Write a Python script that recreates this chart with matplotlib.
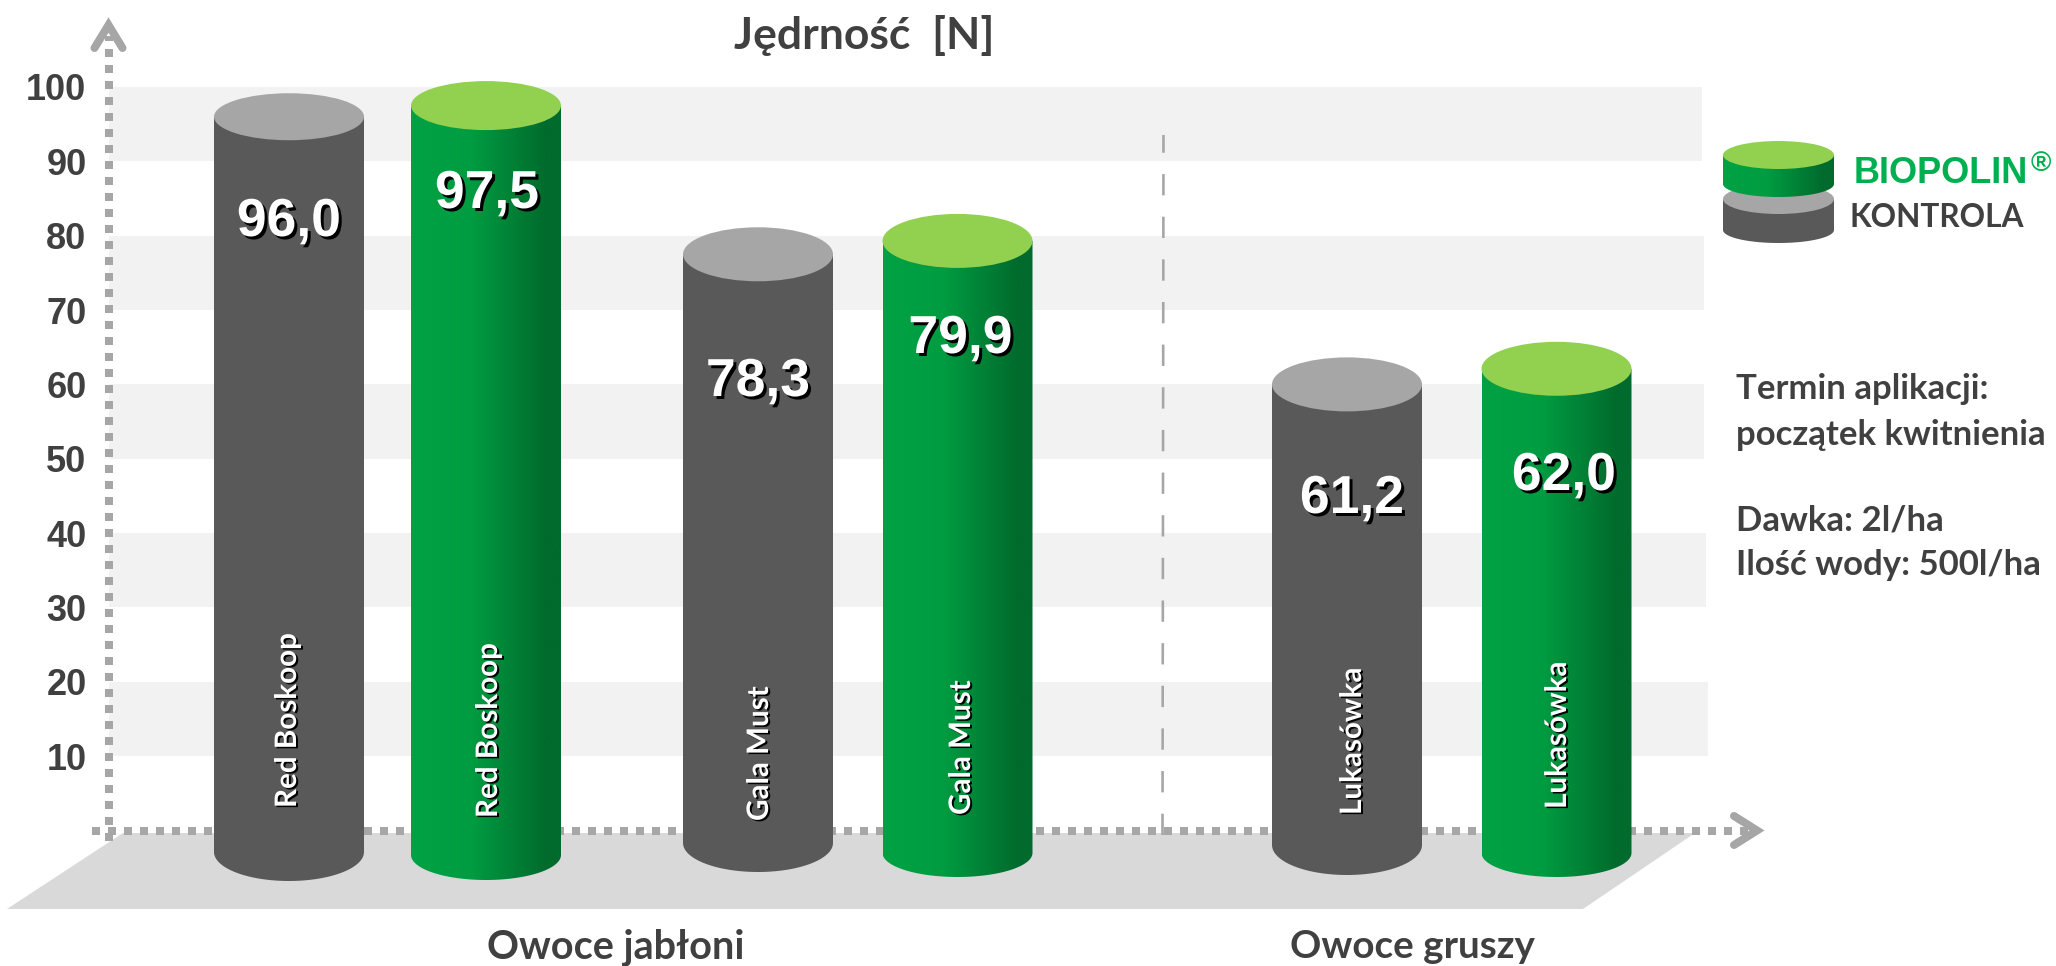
import numpy as np
import matplotlib
matplotlib.use('Agg')
import matplotlib.pyplot as plt
from matplotlib.patches import Ellipse, PathPatch, Polygon
from matplotlib.path import Path
from matplotlib.colors import LinearSegmentedColormap
import matplotlib.patheffects as pe

### --- data --- ###
varieties = ['Red Boskoop', 'Gala Must', 'Lukasówka']
groups = ['Owoce jabłoni', 'Owoce gruszy']
kontrola_labels = ['96,0', '78,3', '61,2']
biopolin_labels = ['97,5', '79,9', '62,0']
# bar heights as drawn against the axis scale
kontrola = [96.0, 77.5, 60.0]
biopolin = [97.5, 79.3, 62.1]
y_ticks = [10, 20, 30, 40, 50, 60, 70, 80, 90, 100]
bands = [(10, 20), (30, 40), (50, 60), (70, 80), (90, 100)]
info_lines = ['Termin aplikacji:', 'początek kwitnienia', 'Dawka: 2l/ha', 'Ilość wody: 500l/ha']

### --- layout (pixels of the 2056x966 picture) --- ###
W, H = 2056, 966
DPI = 100
Y0 = 830.5
PX = 7.435
AX_LEFT = 108.5
BAR_W = 150

kontrola_x = [289, 758, 1347]
biopolin_x = [486, 957.5, 1556.5]
kontrola_side = [852, 843, 845]    # where the straight sides stop
biopolin_side = [855, 853, 853]
kontrola_bot = [881, 872, 875]
biopolin_bot = [880, 877, 877]
kontrola_cap = [23.5, 27, 27]      # half height of the top ellipse
biopolin_cap = [24.5, 27, 27]
kontrola_num_x = [289, 758, 1352]
biopolin_num_x = [487, 960.5, 1564]
kontrola_num_y = [216.5, 376.5, 493.5]
biopolin_num_y = [188.5, 333.5, 470.5]
kontrola_name = (287, 759, 1352)
biopolin_name = (488, 961, 1557)
kontrola_name_bot = [808, 821, 815]
biopolin_name_bot = [818, 815, 809]
band_right = [1708, 1706, 1704, 1704, 1702]

GREY_BODY = '#595959'
GREY_TOP = '#A6A6A6'
GREEN_TOP = '#92D050'
DARK = '#404040'
AXIS = '#A6A6A6'
green_cmap = LinearSegmentedColormap.from_list(
    'g', [(0, '#00A244'), (0.4, '#009C41'), (0.9, '#006B2D'), (1, '#006B2D')])


def v(y):
    # picture pixel row -> axis value
    return (Y0 - np.asarray(y, dtype=float)) / PX


def pt(px):
    return px * 72.0 / DPI


fig = plt.figure(figsize=(W / DPI, H / DPI), dpi=DPI)
ax = fig.add_axes([AX_LEFT / W, 0, 1 - AX_LEFT / W, 1])
ax.patch.set_alpha(0)
ax.set_xlim(AX_LEFT, W)
ax.set_ylim(v(H), v(0))
ax.autoscale(False)
for s in ax.spines.values():
    s.set_visible(False)
ax.set_xticks([])
ax.set_yticks(y_ticks)
ax.tick_params(axis='y', length=0, pad=pt(22))
for t in ax.get_yticklabels():
    t.set_fontfamily('Liberation Sans')
    t.set_fontweight('bold')
    t.set_fontsize(26)
    t.set_color(DARK)

# background bands
for (lo, hi), r in zip(bands, band_right):
    ax.barh((lo + hi) / 2, r - AX_LEFT, height=hi - lo, left=AX_LEFT, color='#F2F2F2', lw=0, zorder=1)

# floor
ax.add_patch(Polygon([(123, v(833)), (1695, v(833)), (1583, v(909)), (7, v(909))],
                     closed=True, fc='#D9D9D9', ec='none', zorder=2, clip_on=False))

# divider
ax.plot([1162.5, 1163.5], [v(835), v(135)], color=AXIS, lw=pt(2.6), ls=(0, (8.2, 8.2)),
        dash_capstyle='butt', zorder=2.5)

# dotted axes with open arrow heads
ax.plot([AX_LEFT, AX_LEFT], [v(841), v(36)], color=AXIS, lw=pt(8), ls=(0, (1, 1)),
        dash_capstyle='butt', zorder=3, clip_on=False)
ax.plot([91.5, 1750], [v(830.5), v(830.5)], color=AXIS, lw=pt(8), ls=(0, (1, 1)),
        dash_capstyle='butt', zorder=3, clip_on=False)
ax.plot([94.5, AX_LEFT, 122.5], [v(48), v(25), v(48)], color=AXIS, lw=pt(8),
        solid_capstyle='round', solid_joinstyle='miter', zorder=3, clip_on=False)
ax.plot([1734, 1757, 1734], [v(816), v(830.5), v(845)], color=AXIS, lw=pt(8),
        solid_capstyle='round', solid_joinstyle='miter', zorder=3, clip_on=False)


def cylinder(x, top_y, side_y, bot_y, cap, width, green, z=4):
    # body: straight sides plus half ellipse at the foot
    t = np.linspace(np.pi, 2 * np.pi, 60)
    foot_x = x + width / 2 * np.cos(t)
    foot_val = v(side_y) + (bot_y - side_y) / PX * np.sin(t)
    xs = np.r_[x - width / 2, foot_x, x + width / 2, x - width / 2]
    ys = np.r_[top_y, foot_val, top_y, top_y]
    path = Path(np.c_[xs, ys])
    if green:
        im = ax.imshow(np.linspace(0, 1, 256)[None, :], cmap=green_cmap, aspect='auto',
                       extent=(x - width / 2, x + width / 2, foot_val.min(), top_y), zorder=z)
        im.set_clip_path(path, ax.transData)
    else:
        ax.add_patch(PathPatch(path, fc=GREY_BODY, ec='none', zorder=z))
    ax.add_patch(Ellipse((x, top_y), width, 2 * cap / PX, fc=GREEN_TOP if green else GREY_TOP,
                         ec='none', zorder=z + 0.1))


shadow_big = [pe.SimplePatchShadow(offset=(pt(3), -pt(3)), shadow_rgbFace='black', alpha=1), pe.Normal()]
shadow_small = [pe.SimplePatchShadow(offset=(pt(2), -pt(1.5)), shadow_rgbFace='black', alpha=1), pe.Normal()]

for i in range(len(varieties)):
    cylinder(kontrola_x[i], kontrola[i], kontrola_side[i], kontrola_bot[i], kontrola_cap[i], BAR_W, False)
    cylinder(biopolin_x[i], biopolin[i], biopolin_side[i], biopolin_bot[i], biopolin_cap[i], BAR_W, True)
    ax.text(kontrola_num_x[i], v(kontrola_num_y[i]), kontrola_labels[i], ha='center', va='center_baseline',
            color='white', fontsize=38.5, fontweight='bold', family='Liberation Sans',
            path_effects=shadow_big, zorder=5)
    ax.text(biopolin_num_x[i], v(biopolin_num_y[i]), biopolin_labels[i], ha='center', va='center_baseline',
            color='white', fontsize=38.5, fontweight='bold', family='Liberation Sans',
            path_effects=shadow_big, zorder=5)
    ax.text(kontrola_name[i], v(kontrola_name_bot[i]), varieties[i], rotation=90, ha='center', va='bottom',
            color='white', fontsize=21.3, fontweight='bold', family='Lato',
            path_effects=shadow_small, zorder=5)
    ax.text(biopolin_name[i], v(biopolin_name_bot[i]), varieties[i], rotation=90, ha='center', va='bottom',
            color='white', fontsize=21.3, fontweight='bold', family='Lato',
            path_effects=shadow_small, zorder=5)

# titles and captions
ax.text(864, v(35), 'Jędrność  [N]', ha='center', va='center', fontsize=32, fontweight='bold',
        family='Lato', color=DARK)
ax.text(616, v(947), groups[0], ha='center', va='center', fontsize=28.5, fontweight='bold',
        family='Lato', color=DARK)
ax.text(1412, v(947), groups[1], ha='center', va='center', fontsize=27.8, fontweight='bold',
        family='Lato', color=DARK)

for line, y in zip(info_lines, [389, 435, 520, 565]):
    ax.text(1736, v(y), line, ha='left', va='center', fontsize=25, fontweight='bold',
            family='Lato', color=DARK)

# legend
cylinder(1778.5, v(199), 230, 243, 15, 111, False, z=4)
cylinder(1778.5, v(155), 184, 197, 14, 111, True, z=4.5)
ax.text(1854, v(183), 'BIOPOLIN', ha='left', va='baseline', fontsize=26, fontweight='bold',
        family='Liberation Sans', color='#00B050')
ax.text(2031, v(171), '®', ha='left', va='baseline', fontsize=20, fontweight='bold',
        family='Liberation Sans', color='#00B050')
ax.text(1850, v(227), 'KONTROLA', ha='left', va='baseline', fontsize=22.8, fontweight='bold',
        family='Lato', color=DARK)

fig.savefig('out.png', dpi=DPI)
